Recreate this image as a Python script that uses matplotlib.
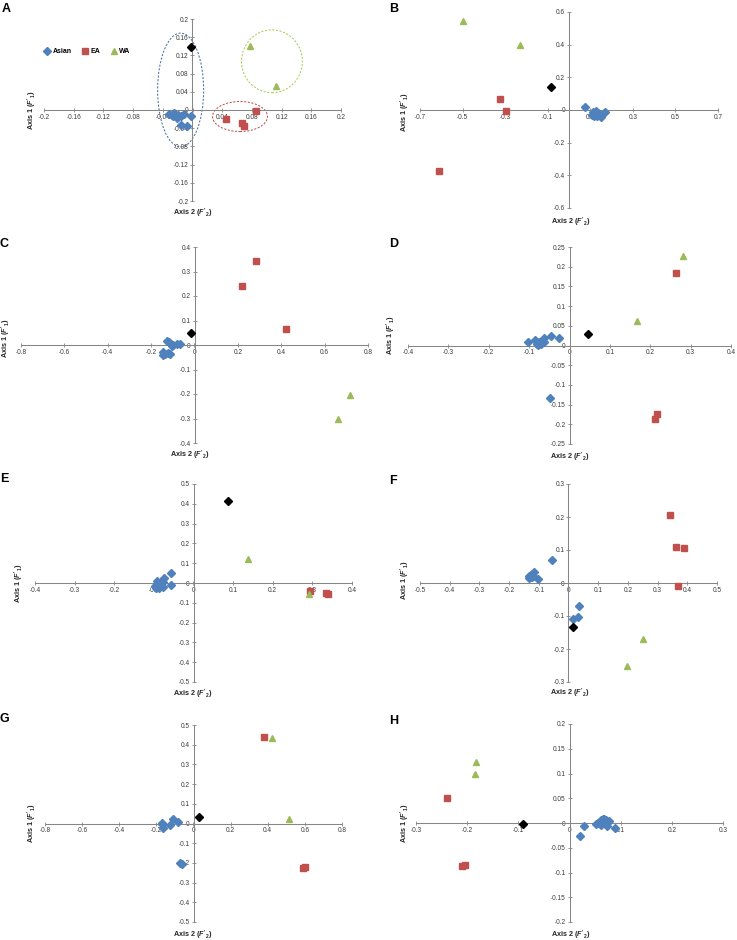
import numpy as np
import matplotlib
matplotlib.use("Agg")
import matplotlib.pyplot as plt
from matplotlib.patches import Ellipse
from matplotlib.ticker import FuncFormatter

plt.rcParams['font.family'] = ['Liberation Sans', 'DejaVu Sans']
plt.rcParams['mathtext.fontset'] = 'custom'
plt.rcParams['mathtext.rm'] = 'Liberation Sans:bold'
plt.rcParams['mathtext.it'] = 'Liberation Sans:italic:bold'
plt.rcParams['mathtext.bf'] = 'Liberation Sans:bold'

W, H = 737, 940

# ---- data (x = axis 2, y = axis 1) ----
# panel A
asian_x_A = [-0.031, -0.028, -0.025, -0.022, -0.019, -0.026, -0.015, -0.012, -0.016, -0.007, -0.002, -0.021]
asian_y_A = [-0.008, -0.011, -0.007, -0.013, -0.010, -0.014, -0.014, -0.009, -0.033, -0.036, -0.014, -0.018]
ea_x_A = [0.085, 0.045, 0.067, 0.070]
ea_y_A = [-0.003, -0.019, -0.028, -0.036]
wa_x_A = [0.078, 0.113]
wa_y_A = [0.140, 0.053]
ref_A = (-0.0025, 0.138)

# panel B
asian_x_B = [0.076, 0.112, 0.120, 0.128, 0.135, 0.143, 0.151, 0.170, 0.117, 0.133, 0.109, 0.125]
asian_y_B = [0.016, -0.010, -0.020, -0.031, -0.016, -0.024, -0.045, -0.014, -0.037, -0.037, -0.031, -0.004]
ea_x_B = [-0.324, -0.294, -0.609]
ea_y_B = [0.069, -0.004, -0.372]
wa_x_B = [-0.499, -0.230]
wa_y_B = [0.543, 0.397]
ref_B = (-0.084, 0.138)

# panel C
asian_x_C = [-0.128, -0.117, -0.108, -0.097, -0.082, -0.066, -0.143, -0.135, -0.123, -0.112, -0.143, -0.103]
asian_y_C = [0.016, 0.011, 0.005, 0.000, 0.003, 0.005, -0.030, -0.038, -0.034, -0.037, -0.041, -0.004]
ea_x_C = [0.282, 0.218, 0.422]
ea_y_C = [0.343, 0.240, 0.065]
wa_x_C = [0.718, 0.662]
wa_y_C = [-0.205, -0.301]
ref_C = (-0.018, 0.047)

# panel D
asian_x_D = [-0.102, -0.086, -0.080, -0.076, -0.071, -0.067, -0.063, -0.064, -0.046, -0.026, -0.078, -0.049]
asian_y_D = [0.009, 0.013, 0.005, 0.009, 0.004, 0.011, 0.008, 0.019, 0.023, 0.018, 0.001, -0.134]
ea_x_D = [0.265, 0.217, 0.212]
ea_y_D = [0.184, -0.175, -0.186]
wa_x_D = [0.280, 0.167]
wa_y_D = [0.227, 0.063]
ref_D = (0.045, 0.030)

# panel E
asian_x_E = [-0.057, -0.057, -0.074, -0.077, -0.084, -0.093, -0.094, -0.086, -0.076, -0.097, -0.091]
asian_y_E = [0.052, -0.010, 0.024, 0.007, -0.002, 0.010, -0.027, -0.027, -0.022, -0.015, -0.007]
ea_x_E = [0.293, 0.335, 0.339]
ea_y_E = [-0.042, -0.052, -0.056]
wa_x_E = [0.137, 0.291]
wa_y_E = [0.120, -0.056]
ref_E = (0.086, 0.416)

# panel F
asian_x_F = [-0.057, -0.102, -0.134, -0.130, -0.126, -0.122, -0.117, -0.132, -0.124, -0.120, 0.036, 0.031, 0.014]
asian_y_F = [0.070, 0.011, 0.014, 0.019, 0.024, 0.028, 0.032, 0.021, 0.017, 0.021, -0.070, -0.102, -0.109]
ea_x_F = [0.341, 0.362, 0.388, 0.370]
ea_y_F = [0.205, 0.108, 0.106, -0.009]
wa_x_F = [0.250, 0.197]
wa_y_F = [-0.170, -0.252]
ref_F = (0.016, -0.132)

# panel G
asian_x_G = [-0.108, -0.081, -0.129, -0.171, -0.162, -0.072, -0.063, -0.171]
asian_y_G = [0.022, 0.008, -0.008, -0.003, -0.025, -0.200, -0.208, 0.005]
ea_x_G = [0.378, 0.590, 0.603]
ea_y_G = [0.441, -0.224, -0.220]
wa_x_G = [0.423, 0.513]
wa_y_G = [0.436, 0.024]
ref_G = (0.032, 0.034)

# panel H
asian_x_H = [0.020, 0.029, 0.052, 0.059, 0.062, 0.065, 0.068, 0.072, 0.075, 0.078, 0.062, 0.074, 0.088, 0.067, 0.055]
asian_y_H = [-0.026, -0.006, -0.003, 0.003, 0.006, 0.008, 0.009, 0.006, 0.003, 0.004, -0.005, -0.007, -0.011, 0.001, -0.001]
ea_x_H = [-0.240, -0.210, -0.204]
ea_y_H = [0.050, -0.086, -0.085]
wa_x_H = [-0.183, -0.185]
wa_y_H = [0.124, 0.099]
ref_H = (-0.091, -0.003)

# axis limits and tick steps
panels = ['A', 'B', 'C', 'D', 'E', 'F', 'G', 'H']
xlims = [(-0.2, 0.2), (-0.7, 0.7), (-0.8, 0.8), (-0.4, 0.4), (-0.4, 0.4), (-0.5, 0.5), (-0.8, 0.8), (-0.3, 0.3)]
ylims = [(-0.2, 0.2), (-0.6, 0.6), (-0.4, 0.4), (-0.25, 0.25), (-0.5, 0.5), (-0.3, 0.3), (-0.5, 0.5), (-0.2, 0.2)]
xsteps = [0.04, 0.2, 0.2, 0.1, 0.1, 0.1, 0.2, 0.1]
ysteps = [0.04, 0.2, 0.1, 0.05, 0.1, 0.1, 0.1, 0.05]

# layout in pixels: axes box (left, top, right, bottom)
boxes = [(44, 19, 341, 201), (420, 12, 718, 208), (21, 247, 368, 443), (408, 247, 731, 444),
         (35, 484, 352, 682), (420, 484, 717, 682), (45, 725, 342, 922), (416, 724, 723, 922)]
ylab_pos = [(32, 110), (405, 112), (6, 338), (391, 335), (19, 583), (405, 580), (32, 823), (405, 823)]
xlab_pos = [(193, 213), (571, 222), (190, 455), (570, 457), (193, 694), (570, 693), (193, 935), (571, 935)]
letter_pos = [(2, 3), (389, 3), (0, 238), (389, 238), (0, 473), (389, 475), (0, 713), (389, 715)]

blue = '#4f81bd'
red = '#c0504d'
green = '#9bbb59'
axcol = '#868686'


def fmt(v, pos):
    if abs(v) < 1e-9:
        return '0'
    return '%g' % round(v, 4)


fig = plt.figure(figsize=(W / 100, H / 100), dpi=100)

for i, p in enumerate(panels):
    l, t, r, b = boxes[i]
    ax = fig.add_axes([l / W, 1 - b / H, (r - l) / W, (b - t) / H])
    g = globals()
    ax.plot(g['asian_x_' + p], g['asian_y_' + p], 'D', color=blue, ms=3.6, mec=blue, label='Asian', zorder=3)
    ax.plot(g['ea_x_' + p], g['ea_y_' + p], 's', color=red, ms=3.9, mec=red, label='EA', zorder=3)
    ax.plot(g['wa_x_' + p], g['wa_y_' + p], '^', color=green, ms=4.1, mec=green, label='WA', zorder=3)
    rx, ry = g['ref_' + p]
    ax.plot([rx], [ry], 'D', color='black', ms=3.6, zorder=4)

    ax.set_xlim(*xlims[i])
    ax.set_ylim(*ylims[i])
    xs = xsteps[i]
    ys = ysteps[i]
    ax.set_xticks(np.arange(xlims[i][0], xlims[i][1] + xs / 2, xs))
    ax.set_yticks(np.arange(ylims[i][0], ylims[i][1] + ys / 2, ys))
    ax.xaxis.set_major_formatter(FuncFormatter(fmt))
    ax.yaxis.set_major_formatter(FuncFormatter(fmt))

    for s in ['top', 'right']:
        ax.spines[s].set_visible(False)
    ax.spines['left'].set_position(('data', 0))
    ax.spines['bottom'].set_position(('data', 0))
    for s in ['left', 'bottom']:
        ax.spines[s].set_color(axcol)
        ax.spines[s].set_linewidth(0.75)
    ax.tick_params(direction='inout', length=2.5, width=0.6, color=axcol,
                   labelsize=4.7, labelcolor='#3a3a3a', pad=1.5)
    ax.patch.set_alpha(0)

    fig.text(ylab_pos[i][0] / W, 1 - ylab_pos[i][1] / H, "Axis 1 ($F'_1$)", rotation=90,
             ha='center', va='center', fontsize=5.2, fontweight='bold', color='#262626')
    fig.text(xlab_pos[i][0] / W, 1 - xlab_pos[i][1] / H, "Axis 2 ($F'_2$)",
             ha='center', va='center', fontsize=5.2, fontweight='bold', color='#262626')
    fig.text(letter_pos[i][0] / W, 1 - letter_pos[i][1] / H, p, ha='left', va='top',
             fontsize=9, fontweight='bold')

    if p == 'A':
        ax.legend(loc='center left', bbox_to_anchor=(-0.01, 0.82), ncol=3, frameon=False,
                  prop={'weight': 'bold', 'size': 5}, handletextpad=0.3,
                  columnspacing=1.4, handlelength=1.0, borderaxespad=0)
        ax.add_patch(Ellipse((-0.016, 0.044), 0.062, 0.25, fill=False, ls=(0, (2, 1.5)),
                             lw=0.75, ec='#4a6fa5'))
        ax.add_patch(Ellipse((0.064, -0.0143), 0.074, 0.066, fill=False, ls=(0, (2, 1.5)),
                             lw=0.75, ec=red))
        ax.add_patch(Ellipse((0.107, 0.107), 0.082, 0.138, fill=False, ls=(0, (2, 1.5)),
                             lw=0.75, ec='#a9cc5a'))

fig.savefig('out.png', dpi=100)
